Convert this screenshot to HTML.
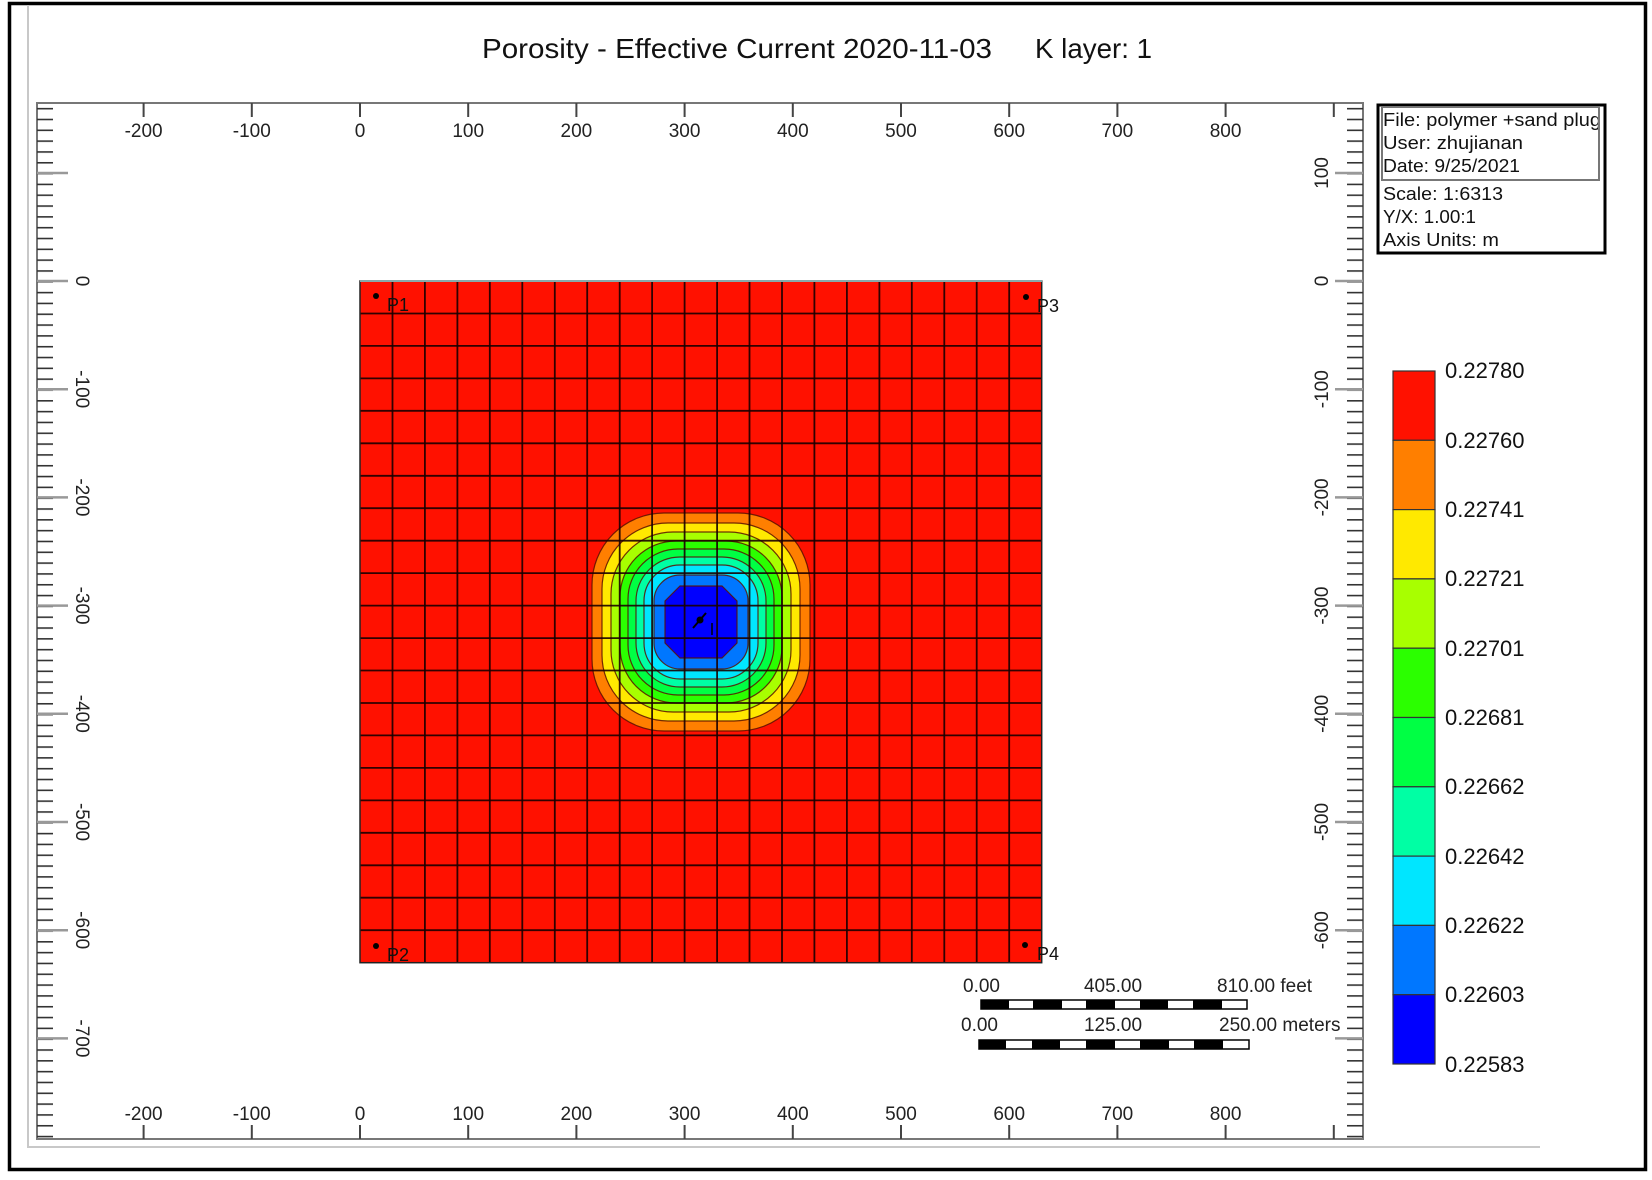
<!DOCTYPE html>
<html><head><meta charset="utf-8"><style>
html,body{margin:0;padding:0;background:#fff;}
svg{display:block;font-family:"Liberation Sans",Arial,sans-serif;}
</style></head><body>
<svg width="1652" height="1180" viewBox="0 0 1652 1180" xmlns="http://www.w3.org/2000/svg">
<defs>
<pattern id="tl" patternUnits="userSpaceOnUse" x="0" y="281" width="20" height="10.82">
<rect x="0" y="0" width="20" height="1.6" fill="#333"/>
</pattern>
</defs>
<rect width="1652" height="1180" fill="#fff"/>
<rect x="9.5" y="3.5" width="1636" height="1166" fill="none" stroke="#000" stroke-width="3.5"/>
<polyline points="28,5 28,1147 1540,1147" fill="none" stroke="#c8c8c8" stroke-width="2"/>
<text x="482" y="58" font-size="28" fill="#111" textLength="510" lengthAdjust="spacingAndGlyphs">Porosity - Effective Current 2020-11-03</text>
<text x="1035" y="58" font-size="28" fill="#111" textLength="117" lengthAdjust="spacingAndGlyphs">K layer: 1</text>
<rect x="37" y="103" width="1326" height="1036" fill="none" stroke="#777" stroke-width="2"/>
<rect x="37" y="104" width="16" height="1034" fill="url(#tl)"/>
<rect x="1347" y="104" width="16" height="1034" fill="url(#tl)"/>
<g stroke="#999" stroke-width="2.5">
<path d="M37 173 h31 M37 281 h31 M37 389.2 h31 M37 497.4 h31 M37 605.6 h31 M37 713.8 h31 M37 822 h31 M37 930.2 h31 M37 1038.4 h31"/>
<path d="M1335 173 h28 M1335 281 h28 M1335 389.2 h28 M1335 497.4 h28 M1335 605.6 h28 M1335 713.8 h28 M1335 822 h28 M1335 930.2 h28 M1335 1038.4 h28"/>
</g>
<g stroke="#444" stroke-width="2">
<path d="M143.6 103v14 M251.8 103v14 M360 103v14 M468.2 103v14 M576.4 103v14 M684.6 103v14 M792.8 103v14 M901 103v14 M1009.2 103v14 M1117.4 103v14 M1225.6 103v14 M1333.8 103v14"/>
<path d="M143.6 1125v14 M251.8 1125v14 M360 1125v14 M468.2 1125v14 M576.4 1125v14 M684.6 1125v14 M792.8 1125v14 M901 1125v14 M1009.2 1125v14 M1117.4 1125v14 M1225.6 1125v14 M1333.8 1125v14"/>
</g>
<g font-size="19" fill="#222" text-anchor="middle">
<text x="143.6" y="137">-200</text><text x="251.8" y="137">-100</text><text x="360" y="137">0</text><text x="468.2" y="137">100</text><text x="576.4" y="137">200</text><text x="684.6" y="137">300</text><text x="792.8" y="137">400</text><text x="901" y="137">500</text><text x="1009.2" y="137">600</text><text x="1117.4" y="137">700</text><text x="1225.6" y="137">800</text>
<text x="143.6" y="1120">-200</text><text x="251.8" y="1120">-100</text><text x="360" y="1120">0</text><text x="468.2" y="1120">100</text><text x="576.4" y="1120">200</text><text x="684.6" y="1120">300</text><text x="792.8" y="1120">400</text><text x="901" y="1120">500</text><text x="1009.2" y="1120">600</text><text x="1117.4" y="1120">700</text><text x="1225.6" y="1120">800</text>
</g>
<g font-size="19" fill="#222" text-anchor="middle">
<text transform="translate(76,281) rotate(90)">0</text>
<text transform="translate(76,389.2) rotate(90)">-100</text>
<text transform="translate(76,497.4) rotate(90)">-200</text>
<text transform="translate(76,605.6) rotate(90)">-300</text>
<text transform="translate(76,713.8) rotate(90)">-400</text>
<text transform="translate(76,822) rotate(90)">-500</text>
<text transform="translate(76,930.2) rotate(90)">-600</text>
<text transform="translate(76,1038.4) rotate(90)">-700</text>
<text transform="translate(1328,173) rotate(-90)">100</text>
<text transform="translate(1328,281) rotate(-90)">0</text>
<text transform="translate(1328,389.2) rotate(-90)">-100</text>
<text transform="translate(1328,497.4) rotate(-90)">-200</text>
<text transform="translate(1328,605.6) rotate(-90)">-300</text>
<text transform="translate(1328,713.8) rotate(-90)">-400</text>
<text transform="translate(1328,822) rotate(-90)">-500</text>
<text transform="translate(1328,930.2) rotate(-90)">-600</text>
</g>
<rect x="360" y="281" width="681.7" height="681.7" fill="#ff1100"/>
<g stroke="#5a1000" stroke-width="1.2" stroke-opacity="0.85">
<rect x="592" y="513" width="218" height="218" rx="72" fill="#ff7f00"/>
<rect x="602" y="523" width="198" height="198" rx="66" fill="#ffe900"/>
<rect x="611" y="532" width="180" height="180" rx="62" fill="#a8ff00"/>
<rect x="620" y="541" width="162" height="162" rx="56" fill="#2bff00"/>
<rect x="628" y="549" width="146" height="146" rx="50" fill="#00ff44"/>
<rect x="636" y="557" width="130" height="130" rx="44" fill="#00ffa4"/>
<rect x="644" y="565" width="114" height="114" rx="36" fill="#00e6ff"/>
<rect x="654" y="575" width="94" height="94" rx="26" fill="#0077ff"/>
<polygon points="680,586 722,586 737,601 737,643 722,658 680,658 665,643 665,601" fill="#0000ff"/>
</g>
<g stroke="#1a0000" stroke-width="1.8" stroke-opacity="0.9">
<path d="M392.5 281v681.7 M424.9 281v681.7 M457.4 281v681.7 M489.8 281v681.7 M522.3 281v681.7 M554.8 281v681.7 M587.2 281v681.7 M619.7 281v681.7 M652.1 281v681.7 M684.6 281v681.7 M717.1 281v681.7 M749.5 281v681.7 M782 281v681.7 M814.4 281v681.7 M846.9 281v681.7 M879.4 281v681.7 M911.8 281v681.7 M944.3 281v681.7 M976.7 281v681.7 M1009.2 281v681.7"/>
<path d="M360 313.5h681.7 M360 345.9h681.7 M360 378.4h681.7 M360 410.8h681.7 M360 443.3h681.7 M360 475.8h681.7 M360 508.2h681.7 M360 540.7h681.7 M360 573.1h681.7 M360 605.6h681.7 M360 638.1h681.7 M360 670.5h681.7 M360 703h681.7 M360 735.4h681.7 M360 767.9h681.7 M360 800.4h681.7 M360 832.8h681.7 M360 865.3h681.7 M360 897.7h681.7 M360 930.2h681.7"/>
</g>
<rect x="360" y="281" width="681.7" height="681.7" fill="none" stroke="#222" stroke-width="1.5"/>
<line x1="360" y1="281" x2="1042" y2="281" stroke="#8aa" stroke-width="2"/>
<g fill="#000">
<circle cx="376" cy="296" r="3"/><circle cx="1026" cy="297" r="3"/>
<circle cx="376" cy="946" r="3"/><circle cx="1025" cy="945" r="3"/>
<circle cx="700" cy="620" r="3.5"/>
</g>
<line x1="693" y1="628" x2="706" y2="613" stroke="#000" stroke-width="2"/>
<line x1="712" y1="623" x2="712" y2="635" stroke="#000" stroke-width="1.5"/>
<g font-size="18" fill="#111">
<text x="387" y="311">P1</text><text x="1037" y="312">P3</text>
<text x="387" y="961">P2</text><text x="1037" y="960">P4</text>
</g>
<g font-size="19" fill="#222">
<text x="963" y="992">0.00</text><text x="1113" y="992" text-anchor="middle">405.00</text><text x="1217" y="992">810.00 feet</text>
<text x="961" y="1031">0.00</text><text x="1113" y="1031" text-anchor="middle">125.00</text><text x="1219" y="1031">250.00 meters</text>
</g>
<g>
<rect x="981" y="1000" width="266" height="9" fill="#fff" stroke="#000" stroke-width="1.5"/>
<path d="M981 1000h28v9h-28z M1033 1000h29v9h-29z M1086 1000h29v9h-29z M1140 1000h28v9h-28z M1193 1000h29v9h-29z" fill="#000"/>
<rect x="979" y="1040" width="270" height="9" fill="#fff" stroke="#000" stroke-width="1.5"/>
<path d="M979 1040h27v9h-27z M1032 1040h28v9h-28z M1086 1040h29v9h-29z M1140 1040h29v9h-29z M1194 1040h29v9h-29z" fill="#000"/>
</g>
<rect x="1378" y="105" width="227" height="148" fill="#fff" stroke="#000" stroke-width="3"/>
<rect x="1382" y="107" width="217" height="73" fill="none" stroke="#777" stroke-width="2"/>
<svg x="1382" y="105" width="216" height="148">
<g font-size="18" fill="#111">
<text x="1" y="21" textLength="218" lengthAdjust="spacingAndGlyphs">File: polymer +sand plug</text>
<text x="1" y="44" textLength="140" lengthAdjust="spacingAndGlyphs">User:  zhujianan</text>
<text x="1" y="67" textLength="137" lengthAdjust="spacingAndGlyphs">Date: 9/25/2021</text>
<text x="1" y="95" textLength="120" lengthAdjust="spacingAndGlyphs">Scale: 1:6313</text>
<text x="1" y="118" textLength="93" lengthAdjust="spacingAndGlyphs">Y/X: 1.00:1</text>
<text x="1" y="141" textLength="116" lengthAdjust="spacingAndGlyphs">Axis Units: m</text>
</g>
</svg>
<g stroke="#333" stroke-width="1.2">
<rect x="1393" y="371" width="42" height="69.3" fill="#ff1100"/>
<rect x="1393" y="440.3" width="42" height="69.3" fill="#ff7f00"/>
<rect x="1393" y="509.6" width="42" height="69.3" fill="#ffe900"/>
<rect x="1393" y="578.9" width="42" height="69.3" fill="#a8ff00"/>
<rect x="1393" y="648.2" width="42" height="69.3" fill="#2bff00"/>
<rect x="1393" y="717.5" width="42" height="69.3" fill="#00ff44"/>
<rect x="1393" y="786.8" width="42" height="69.3" fill="#00ffa4"/>
<rect x="1393" y="856.1" width="42" height="69.3" fill="#00e6ff"/>
<rect x="1393" y="925.4" width="42" height="69.3" fill="#0077ff"/>
<rect x="1393" y="994.7" width="42" height="69.3" fill="#0000ff"/>
</g>
<g font-size="22" fill="#111">
<text x="1445" y="378">0.22780</text>
<text x="1445" y="448">0.22760</text>
<text x="1445" y="517">0.22741</text>
<text x="1445" y="586">0.22721</text>
<text x="1445" y="656">0.22701</text>
<text x="1445" y="725">0.22681</text>
<text x="1445" y="794">0.22662</text>
<text x="1445" y="864">0.22642</text>
<text x="1445" y="933">0.22622</text>
<text x="1445" y="1002">0.22603</text>
<text x="1445" y="1072">0.22583</text>
</g>
</svg>
</body></html>
